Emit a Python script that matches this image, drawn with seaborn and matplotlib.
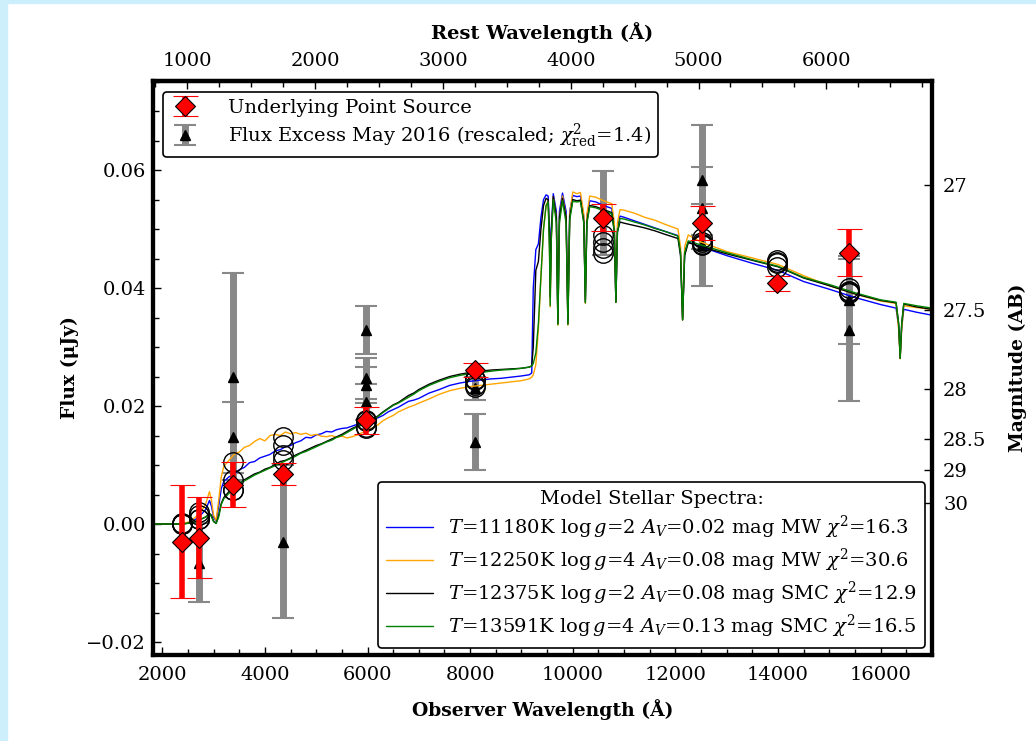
import numpy as np
import pandas as pd
import matplotlib
matplotlib.use("Agg")
import matplotlib.pyplot as plt
import seaborn as sns
from matplotlib.lines import Line2D
from matplotlib.patches import Rectangle
from matplotlib.ticker import MultipleLocator, FixedLocator, FixedFormatter

# ---- model spectra (observer-frame wavelength, flux in uJy) ----
wave = [1800, 2000, 2200, 2400, 2550, 2650, 2750, 2850, 2920, 2960,
        3000, 3050, 3100, 3150, 3200, 3300, 3400, 3500, 3600, 3700,
        3800, 3900, 4000, 4100, 4200, 4300, 4400, 4500, 4600, 4700,
        4800, 4900, 5000, 5100, 5200, 5300, 5400, 5500, 5600, 5700,
        5800, 5900, 6000, 6100, 6200, 6300, 6400, 6500, 6600, 6700,
        6800, 6900, 7000, 7200, 7400, 7600, 7800, 8000, 8200, 8400,
        8600, 8800, 9000, 9150, 9200, 9230, 9280, 9330, 9380, 9430,
        9480, 9520, 9545, 9560, 9580, 9620, 9680, 9710, 9740, 9800,
        9870, 9905, 9940, 10000, 10080, 10150, 10215, 10245, 10275, 10330,
        10450, 10600, 10760, 10810, 10840, 10870, 10920, 11000, 11200, 11400,
        11600, 11800, 12050, 12100, 12140, 12180, 12250, 12500, 13000, 13500,
        14000, 14500, 15000, 15500, 16000, 16300, 16350, 16380, 16410, 16450,
        16700, 17000]

flux_blue = [0, 0, 0, 0.0001, 0.0003, 0.0008, 0.0015, 0.0025, 0.0040, 0.0030,
             0.0012, 0.0005, 0.0030, 0.0060, 0.0072, 0.0080, 0.0085, 0.0092, 0.0096, 0.0104,
             0.0106, 0.0112, 0.0115, 0.0118, 0.0124, 0.0126, 0.0131, 0.0133, 0.0138, 0.0141,
             0.0147, 0.0146, 0.0151, 0.0153, 0.0157, 0.0156, 0.0160, 0.0162, 0.0163, 0.0166,
             0.0169, 0.0170, 0.0174, 0.0176, 0.0180, 0.0184, 0.0190, 0.0194, 0.0198, 0.0203,
             0.0208, 0.0210, 0.0213, 0.0222, 0.0228, 0.0235, 0.0239, 0.0242, 0.0244, 0.0246,
             0.0247, 0.0249, 0.0251, 0.0253, 0.0256, 0.0400, 0.0465, 0.0475, 0.0520, 0.0550,
             0.0558, 0.0556, 0.0500, 0.0400, 0.0500, 0.0560, 0.0530, 0.0345, 0.0530, 0.0561,
             0.0530, 0.0345, 0.0530, 0.0557, 0.0555, 0.0556, 0.0520, 0.0380, 0.0520, 0.0548,
             0.0546, 0.0540, 0.0535, 0.0500, 0.0378, 0.0500, 0.0522, 0.0520, 0.0514, 0.0508,
             0.0502, 0.0496, 0.0489, 0.0460, 0.0348, 0.0460, 0.0478, 0.0470, 0.0455, 0.0442,
             0.0430, 0.0411, 0.0398, 0.0384, 0.0372, 0.0366, 0.0335, 0.0285, 0.0335, 0.0364,
             0.0359, 0.0354]

flux_orange = [0, 0, 0, 0.0001, 0.0004, 0.0012, 0.0020, 0.0035, 0.0055, 0.0040,
               0.0015, 0.0006, 0.0040, 0.0080, 0.0098, 0.0108, 0.0118, 0.0122, 0.0130, 0.0133,
               0.0140, 0.0145, 0.0141, 0.0150, 0.0152, 0.0150, 0.0156, 0.0153, 0.0155, 0.0152,
               0.0154, 0.0150, 0.0152, 0.0149, 0.0148, 0.0150, 0.0147, 0.0149, 0.0146, 0.0148,
               0.0151, 0.0155, 0.0160, 0.0163, 0.0168, 0.0175, 0.0180, 0.0184, 0.0190, 0.0194,
               0.0198, 0.0201, 0.0205, 0.0212, 0.0220, 0.0226, 0.0230, 0.0233, 0.0235, 0.0237,
               0.0239, 0.0241, 0.0243, 0.0246, 0.0249, 0.0253, 0.0270, 0.0330, 0.0420, 0.0500,
               0.0540, 0.0548, 0.0480, 0.0368, 0.0480, 0.0555, 0.0520, 0.0337, 0.0520, 0.0556,
               0.0520, 0.0337, 0.0525, 0.0563, 0.0560, 0.0562, 0.0525, 0.0374, 0.0525, 0.0556,
               0.0554, 0.0548, 0.0543, 0.0510, 0.0376, 0.0510, 0.0533, 0.0532, 0.0527, 0.0520,
               0.0515, 0.0508, 0.0500, 0.0470, 0.0346, 0.0470, 0.0490, 0.0478, 0.0462, 0.0451,
               0.0440, 0.0421, 0.0404, 0.0390, 0.0378, 0.0374, 0.0330, 0.0280, 0.0330, 0.0370,
               0.0367, 0.0364]

flux_black = [0, 0, 0, 0, 0.0002, 0.0004, 0.0008, 0.0012, 0.0018, 0.0015,
              0.0005, 0.0001, 0.0015, 0.0035, 0.0045, 0.0055, 0.0060, 0.0068, 0.0075, 0.0080,
              0.0085, 0.0088, 0.0093, 0.0096, 0.0101, 0.0106, 0.0108, 0.0112, 0.0117, 0.0121,
              0.0125, 0.0129, 0.0133, 0.0136, 0.0140, 0.0144, 0.0148, 0.0152, 0.0157, 0.0162,
              0.0166, 0.0169, 0.0174, 0.0178, 0.0183, 0.0190, 0.0196, 0.0202, 0.0206, 0.0212,
              0.0218, 0.0222, 0.0228, 0.0237, 0.0244, 0.0250, 0.0254, 0.0257, 0.0259, 0.0261,
              0.0262, 0.0263, 0.0264, 0.0266, 0.0268, 0.0300, 0.0430, 0.0445, 0.0500, 0.0540,
              0.0552, 0.0550, 0.0490, 0.0385, 0.0490, 0.0555, 0.0520, 0.0340, 0.0520, 0.0552,
              0.0520, 0.0340, 0.0520, 0.0550, 0.0548, 0.0549, 0.0512, 0.0376, 0.0512, 0.0540,
              0.0538, 0.0533, 0.0528, 0.0495, 0.0376, 0.0495, 0.0512, 0.0510, 0.0506, 0.0502,
              0.0497, 0.0491, 0.0484, 0.0455, 0.0346, 0.0455, 0.0477, 0.0470, 0.0458, 0.0447,
              0.0436, 0.0417, 0.0404, 0.0390, 0.0379, 0.0375, 0.0340, 0.0281, 0.0340, 0.0373,
              0.0368, 0.0364]

flux_green = [0, 0, 0, 0, 0.0002, 0.0004, 0.0008, 0.0012, 0.0018, 0.0012,
              0.0004, 0.0001, 0.0012, 0.0033, 0.0043, 0.0052, 0.0058, 0.0070, 0.0073, 0.0078,
              0.0083, 0.0087, 0.0091, 0.0095, 0.0099, 0.0103, 0.0107, 0.0111, 0.0115, 0.0120,
              0.0123, 0.0127, 0.0131, 0.0135, 0.0139, 0.0142, 0.0147, 0.0150, 0.0155, 0.0160,
              0.0165, 0.0168, 0.0172, 0.0177, 0.0182, 0.0189, 0.0195, 0.0201, 0.0205, 0.0210,
              0.0215, 0.0220, 0.0226, 0.0235, 0.0242, 0.0248, 0.0252, 0.0255, 0.0257, 0.0259,
              0.0261, 0.0262, 0.0264, 0.0266, 0.0268, 0.0272, 0.0290, 0.0340, 0.0420, 0.0500,
              0.0540, 0.0546, 0.0470, 0.0370, 0.0480, 0.0550, 0.0510, 0.0338, 0.0510, 0.0548,
              0.0510, 0.0338, 0.0515, 0.0547, 0.0546, 0.0547, 0.0510, 0.0375, 0.0510, 0.0538,
              0.0536, 0.0531, 0.0526, 0.0495, 0.0376, 0.0495, 0.0518, 0.0517, 0.0512, 0.0507,
              0.0501, 0.0496, 0.0488, 0.0460, 0.0346, 0.0460, 0.0480, 0.0473, 0.0460, 0.0448,
              0.0437, 0.0418, 0.0406, 0.0392, 0.0380, 0.0376, 0.0340, 0.0281, 0.0340, 0.0374,
              0.0370, 0.0366]

model_names = ['blue', 'orange', 'black', 'green']
model_colors = ['#0000ff', '#ffa500', '#000000', '#008000']
model_labels = [r'$T$=11180K log$\,g$=2 $A_V$=0.02 mag MW $\chi^2$=16.3',
                r'$T$=12250K log$\,g$=4 $A_V$=0.08 mag MW $\chi^2$=30.6',
                r'$T$=12375K log$\,g$=2 $A_V$=0.08 mag SMC $\chi^2$=12.9',
                r'$T$=13591K log$\,g$=4 $A_V$=0.13 mag SMC $\chi^2$=16.5']

# ---- photometry (filter pivot wavelengths, observer frame) ----
filt_wave = [2390, 2720, 3383, 4356, 5972, 8095, 10587, 12514, 13975, 15377]

# underlying point source
ps_flux = [-0.0030, -0.0023, 0.0067, 0.0085, 0.0176, 0.0261, 0.0519, 0.0510, 0.0408, 0.0460]
ps_err = [0.0096, 0.0069, 0.0038, 0.0019, 0.0023, 0.0012, 0.0023, 0.0029, 0.0013, 0.0040]

# flux excess May 2016 (rescaled)
exc_wave = [2720, 3383, 3383, 4356, 5972, 5972, 5972, 5972, 8095, 8095,
            10587, 12514, 12514, 12514, 15377, 15377]
exc_flux = [-0.0066, 0.0250, 0.0147, -0.0030, 0.0329, 0.0247, 0.0236, 0.0207, 0.0139, 0.0230,
            0.0527, 0.0583, 0.0536, 0.0473, 0.0329, 0.0380]
exc_err = [0.0067, 0.0175, 0.0060, 0.0130, 0.0040, 0.0035, 0.0030, 0.0030, 0.0047, 0.0020,
           0.0071, 0.0093, 0.0070, 0.0070, 0.0120, 0.0075]

# synthetic photometry of each model
syn_blue = [0.0, 0.0015, 0.0075, 0.0134, 0.0165, 0.0236, 0.0468, 0.0478, 0.0436, 0.0391]
syn_orange = [0.0001, 0.0020, 0.0105, 0.0147, 0.0163, 0.0232, 0.0490, 0.0485, 0.0447, 0.0400]
syn_black = [0.0, 0.0008, 0.0058, 0.0117, 0.0175, 0.0244, 0.0460, 0.0473, 0.0442, 0.0393]
syn_green = [0.0, 0.0008, 0.0058, 0.0108, 0.0177, 0.0246, 0.0478, 0.0475, 0.0444, 0.0395]

mag_ticks = [27, 27.5, 28, 28.5, 29, 30]
one_plus_z = 2.49

sns.set_style("ticks")
plt.rcParams['font.family'] = ['DejaVu Serif']
plt.rcParams['mathtext.fontset'] = 'dejavuserif'
plt.rcParams['axes.linewidth'] = 3
for key in ['axes.edgecolor', 'text.color', 'axes.labelcolor', 'xtick.color', 'ytick.color']:
    plt.rcParams[key] = 'black'

FS = 14

fig = plt.figure(figsize=(10.36, 7.41), dpi=100)
fig.patches.append(Rectangle((0, 0), 7 / 1036, 1, transform=fig.transFigure,
                             color='#cdeefb', zorder=0))
fig.patches.append(Rectangle((0, 1 - 3 / 741), 1, 3 / 741, transform=fig.transFigure,
                             color='#cdeefb', zorder=0))
ax = fig.add_axes([153 / 1036, 1 - 655 / 741, 779 / 1036, 574 / 741])

spec = pd.DataFrame({'wave': wave * 4,
                     'flux': flux_blue + flux_orange + flux_black + flux_green,
                     'model': sum([[m] * len(wave) for m in model_names], [])})
sns.lineplot(data=spec, x='wave', y='flux', hue='model', palette=model_colors,
             hue_order=model_names, estimator=None, sort=False, lw=1.0,
             legend=False, ax=ax, zorder=3)

# flux excess (gray bars, black triangles)
exc = ax.errorbar(exc_wave, exc_flux, yerr=exc_err, fmt='^', color='k', ms=7,
                  ecolor='#888888', elinewidth=5, capsize=8, capthick=1.5, zorder=2)

# synthetic model photometry
for syn in [syn_blue, syn_orange, syn_black, syn_green]:
    ax.plot(filt_wave, syn, 'o', ms=14, mfc='none', mec='k', mew=1.0, zorder=4)

# underlying point source
ps = ax.errorbar(filt_wave, ps_flux, yerr=ps_err, fmt='D', mfc='red', mec='k', mew=0.8,
                 ms=10, ecolor='red', elinewidth=4, capsize=9, capthick=1.5, zorder=5)

ax.set_xlim(1820, 17000)
ax.set_ylim(-0.0222, 0.0751)
ax.xaxis.set_major_locator(MultipleLocator(2000))
ax.xaxis.set_minor_locator(MultipleLocator(500))
ax.yaxis.set_major_locator(MultipleLocator(0.02))
ax.yaxis.set_minor_locator(MultipleLocator(0.005))
ax.yaxis.set_major_formatter(matplotlib.ticker.FuncFormatter(
    lambda v, p: ('%.2f' % v).replace('-', '\u2212')))
ax.tick_params(which='both', direction='in', top=False, right=False, labelsize=FS)
ax.tick_params(which='major', length=6, width=1)
ax.tick_params(which='minor', length=4, width=1)
ax.tick_params(axis='x', which='both', pad=8)
ax.tick_params(axis='y', which='both', pad=5)
ax.set_xlabel('Observer Wavelength (Å)', fontsize=13.5, fontweight='bold', labelpad=11)
ax.set_ylabel('Flux (μJy)', fontsize=13.5, fontweight='bold', labelpad=5)

# top axis: rest-frame wavelength
secx = ax.secondary_xaxis('top', functions=(lambda x: x / one_plus_z,
                                            lambda x: x * one_plus_z))
secx.xaxis.set_major_locator(MultipleLocator(1000))
secx.xaxis.set_minor_locator(MultipleLocator(250))
secx.tick_params(which='both', direction='in', labelsize=FS, pad=8)
secx.tick_params(which='major', length=6, width=1)
secx.tick_params(which='minor', length=4, width=1)
secx.set_xlabel('Rest Wavelength (Å)', fontsize=14, fontweight='bold', labelpad=9)

# right axis: AB magnitude
ax2 = ax.twinx()
ax2.set_ylim(ax.get_ylim())
mag_pos = [10 ** ((23.9 - m) / 2.5) for m in mag_ticks]
ax2.yaxis.set_major_locator(FixedLocator(mag_pos))
ax2.yaxis.set_major_formatter(FixedFormatter([('%g' % m) for m in mag_ticks]))
ax2.yaxis.set_minor_locator(FixedLocator([]))
ax2.tick_params(which='both', direction='in', labelsize=FS, length=6, width=1, pad=8)
ax2.set_ylabel('Magnitude (AB)', fontsize=13.5, fontweight='bold', labelpad=16)

# legends
leg1 = ax2.legend([ps, exc], ['Underlying Point Source',
                              r'Flux Excess May 2016 (rescaled; $\chi^2_{\rm red}$=1.4)'],
                  loc='upper left', bbox_to_anchor=(0.013, 0.981), borderaxespad=0,
                  fontsize=FS, frameon=True, fancybox=True, edgecolor='k',
                  framealpha=1, handlelength=1.6, handletextpad=1.4,
                  labelspacing=0.25, borderpad=0.35)
leg1.get_frame().set_linewidth(1.2)
ax2.add_artist(leg1)

line_handles = [Line2D([], [], color=c, lw=1.0) for c in model_colors]
leg2 = ax2.legend(line_handles, model_labels, loc='lower right',
                  bbox_to_anchor=(0.991, 0.012), borderaxespad=0,
                  title='Model Stellar Spectra:', title_fontsize=FS, fontsize=FS,
                  frameon=True, fancybox=True, edgecolor='k', framealpha=1,
                  handlelength=2.4, handletextpad=0.8, labelspacing=0.3,
                  borderpad=0.4)
leg2.get_frame().set_linewidth(1.2)

fig.savefig('out.png', dpi=100)
